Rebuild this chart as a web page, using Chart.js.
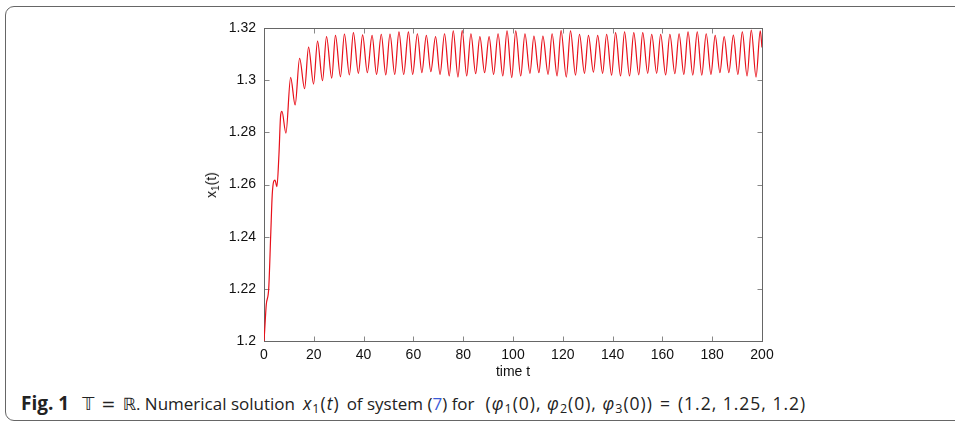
<!DOCTYPE html>
<html>
<head>
<meta charset="utf-8">
<script src="https://cdn.jsdelivr.net/npm/chart.js@4"></script>
<style>
  html, body { margin: 0; padding: 0; background: #fff; }
  body { width: 955px; height: 425px; position: relative; overflow: hidden; }
  .panel {
    position: absolute; left: 5px; top: 6px; width: 990px; height: 415px;
    border: 1.3px solid #666; border-radius: 9px; box-sizing: border-box;
  }
  #plot { position: absolute; left: 0; top: 0; }
  .ylab {
    position: absolute; left: 211px; top: 185px;
    transform: translate(-50%, -50%) rotate(-90deg);
    font: 14px "Liberation Sans", Arial, sans-serif; color: #111; white-space: nowrap;
  }
  .ylab sub { font-size: 10px; vertical-align: -3px; line-height: 0; }
  .caption {
    position: absolute; left: 21px; top: 390px; white-space: nowrap;
    font: 17px "Open Sans", sans-serif; color: #222;
  }
  .caption b { font-size: 19px; font-weight: 700; margin-right: 13px; }
  .caption i { font-style: italic; }
  .caption .m { font-size: 17.5px; letter-spacing: 1px; }
  .caption .mx { margin: 0 7px 0 8px; }
  .caption .mp { margin-left: 11px; }
  .caption sub { font-size: 12.5px; vertical-align: -3px; line-height: 0; }
  .caption .ds { font-family: "DejaVu Sans", sans-serif; font-size: 17px; }
  .caption .eq { margin: 0 7px; }
  .caption .ref { color: #3a5bd9; }
</style>
</head>
<body>
<div class="panel"></div>
<canvas id="plot" width="955" height="385"></canvas>
<div class="ylab">x<sub>1</sub>(t)</div>
<div class="caption"><b>Fig. 1</b><span class="ds">𝕋<span class="eq">=</span>ℝ</span>. Numerical solution<span class="m mx"><i>x</i><sub>1</sub>(<i>t</i>)</span>of system (<span class="ref">7</span>) for<span class="m mp">(<i>φ</i><sub>1</sub>(0), <i>φ</i><sub>2</sub>(0), <i>φ</i><sub>3</sub>(0))<span class="eq">=</span>(1.2, 1.25, 1.2)</span></div>
<script>
// axis ticks
const xTicks = [0, 20, 40, 60, 80, 100, 120, 140, 160, 180, 200];
const yTicks = [1.2, 1.22, 1.24, 1.26, 1.28, 1.3, 1.32];

// start-up transient of x1(t)
const rampTimes  = [0, 0.3, 0.9, 1.9, 2.7, 3.3, 3.9, 4.4, 5.2, 6.0, 6.7];
const rampValues = [1.2, 1.2045, 1.2138, 1.2202, 1.2407, 1.256, 1.2612, 1.2617, 1.2592, 1.2714, 1.2867];

// local maxima of the oscillation
const peakTimes = [7.2, 10.7, 14.3, 17.9, 21.5, 25.1, 28.7, 32.3, 35.9, 39.6,
  43.4, 47.1, 50.6, 54.2, 58.0, 61.6, 65.2, 68.9, 72.5, 76.0,
  79.6, 83.1, 86.7, 90.4, 94.0, 97.6, 101.1, 104.8, 108.4, 112.0,
  115.7, 119.3, 123.1, 126.7, 130.3, 134.0, 137.6, 141.2, 144.8, 148.5,
  152.1, 155.7, 159.3, 163.0, 166.7, 170.3, 174.0, 177.6, 181.2, 184.8,
  188.5, 192.1, 195.7, 199.3];
const peakValues = [1.288, 1.3011, 1.3084, 1.3127, 1.315, 1.3167, 1.3172, 1.3177, 1.3182, 1.3174,
  1.3172, 1.3176, 1.3177, 1.3185, 1.3185, 1.3178, 1.3172, 1.3167, 1.3178, 1.3189,
  1.319, 1.3178, 1.3167, 1.3167, 1.3178, 1.3189, 1.3189, 1.3178, 1.3169, 1.3169,
  1.3178, 1.319, 1.3189, 1.3176, 1.3172, 1.3172, 1.3176, 1.3182, 1.3185, 1.3182,
  1.3182, 1.3176, 1.3176, 1.3176, 1.3178, 1.3185, 1.3185, 1.3178, 1.3172, 1.3167,
  1.3173, 1.3185, 1.3192, 1.3189];

// local minima of the oscillation
const troughTimes = [8.8, 12.5, 16.3, 19.9, 23.5, 27.2, 30.7, 34.3, 37.9, 41.5,
  45.2, 48.9, 52.5, 56.1, 59.7, 63.4, 67.0, 70.7, 74.4, 77.9,
  81.4, 85.0, 88.6, 92.2, 95.9, 99.5, 103.1, 106.8, 110.4, 114.1,
  117.7, 121.4, 125.1, 128.7, 132.3, 136.0, 139.6, 143.2, 146.8, 150.5,
  154.1, 157.7, 161.3, 165.0, 168.6, 172.2, 175.8, 179.5, 183.1, 186.7,
  190.3, 194.0, 197.6];
const troughValues = [1.2797, 1.2905, 1.2967, 1.2985, 1.2998, 1.3008, 1.3013, 1.302, 1.3026, 1.3029,
  1.3022, 1.302, 1.3022, 1.3022, 1.3022, 1.3029, 1.3033, 1.3022, 1.3016, 1.3012,
  1.3016, 1.3025, 1.3029, 1.3022, 1.3016, 1.301, 1.3016, 1.3026, 1.3029, 1.3022,
  1.3016, 1.3012, 1.3019, 1.3026, 1.3031, 1.3026, 1.3019, 1.3016, 1.3016, 1.302,
  1.3026, 1.3026, 1.302, 1.3025, 1.3022, 1.3019, 1.3019, 1.3022, 1.3029, 1.3029,
  1.3022, 1.3016, 1.3012];

// value at the end of the run
const endTime = 200;
const endValue = 1.3125;

const points = [];
rampTimes.forEach((t, i) => points.push({ x: t, y: rampValues[i] }));
peakTimes.forEach((t, i) => points.push({ x: t, y: peakValues[i] }));
troughTimes.forEach((t, i) => points.push({ x: t, y: troughValues[i] }));
points.push({ x: endTime, y: endValue });
points.sort((a, b) => a.x - b.x);

const tickFont = { family: '"Liberation Sans", Arial, sans-serif', size: 14 };

// box around the axes with inward tick marks on all four sides
const frame = {
  id: 'frame',
  beforeDatasetsDraw(chart) {
    const { ctx, chartArea: a, scales: { x, y } } = chart;
    const L = Math.round(a.left) + 0.5, R = Math.round(a.right) + 0.5;
    const T = Math.round(a.top) + 0.5, B = Math.round(a.bottom) + 0.5;
    ctx.save();
    ctx.lineWidth = 1;
    ctx.strokeStyle = '#888';
    xTicks.forEach(v => {
      const px = Math.round(x.getPixelForValue(v)) + 0.5;
      ctx.beginPath();
      ctx.moveTo(px, B); ctx.lineTo(px, B - 5);
      ctx.moveTo(px, T); ctx.lineTo(px, T + 5);
      ctx.stroke();
    });
    yTicks.forEach(v => {
      const py = Math.round(y.getPixelForValue(v)) + 0.5;
      ctx.beginPath();
      ctx.moveTo(L, py); ctx.lineTo(L + 5, py);
      ctx.moveTo(R, py); ctx.lineTo(R - 5, py);
      ctx.stroke();
    });
    ctx.strokeStyle = '#666';
    ctx.strokeRect(L, T, R - L, B - T);
    ctx.restore();
  }
};

new Chart(document.getElementById('plot'), {
  type: 'line',
  data: {
    datasets: [{
      data: points,
      borderColor: '#e8101a',
      borderWidth: 1.2,
      pointRadius: 0,
      cubicInterpolationMode: 'monotone'
    }]
  },
  options: {
    responsive: false,
    animation: false,
    layout: { padding: { left: 0, top: 28, right: 193, bottom: 0 } },
    plugins: { legend: { display: false }, tooltip: { enabled: false } },
    scales: {
      x: {
        type: 'linear', min: 0, max: 200,
        afterFit: s => { s.height = 44; },
        afterBuildTicks: s => { s.ticks = xTicks.map(v => ({ value: v })); },
        grid: { display: false, drawTicks: false },
        border: { display: false },
        ticks: { font: tickFont, color: '#111', padding: 6, maxRotation: 0, autoSkip: false },
        title: { display: true, text: 'time t', font: tickFont, color: '#111', padding: { top: 0, bottom: 4 } }
      },
      y: {
        min: 1.2, max: 1.32,
        afterFit: s => { s.width = 264; },
        afterBuildTicks: s => { s.ticks = yTicks.map(v => ({ value: v })); },
        grid: { display: false, drawTicks: false },
        border: { display: false },
        ticks: {
          font: tickFont, color: '#111', padding: 8, autoSkip: false,
          callback: v => String(Number(v.toFixed(2)))
        }
      }
    }
  },
  plugins: [frame]
});
</script>
</body>
</html>
